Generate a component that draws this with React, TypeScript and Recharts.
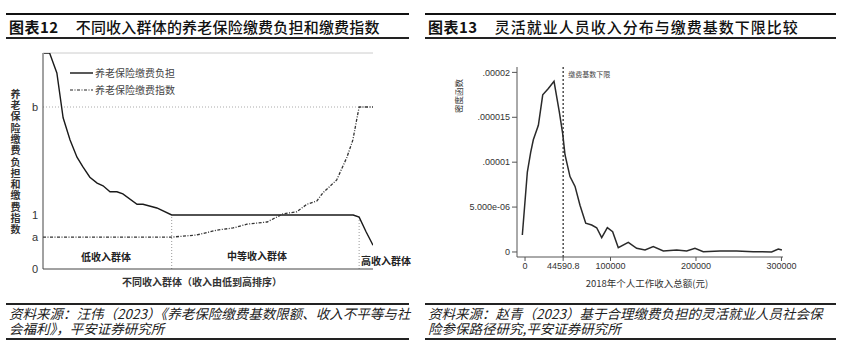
import React from "react";
import { LineChart, Line, XAxis, YAxis, ReferenceLine } from "recharts";

// left chart: income groups sorted low -> high (0..100)
const A_LEVEL = 0.59;
const B_LEVEL = 3;
const burdenX = [0.3, 2, 4.2, 6.1, 8.2, 10.3, 12.1, 14.2, 16.4, 18.2, 20.3, 22.4, 24.2, 28.5, 30.3, 34.5, 39, 94, 95.8, 97.9, 100];
const burdenY = [4.0, 4.0, 3.63, 2.8, 2.39, 2.07, 1.89, 1.7, 1.59, 1.54, 1.43, 1.43, 1.39, 1.2, 1.2, 1.13, 1.0, 1.0, 0.96, 0.69, 0.44];
const indexX = [0, 39, 46.6, 52.7, 57.6, 61.8, 67.9, 72.7, 76.9, 80, 83, 84.8, 89, 92.1, 93.9, 95.2, 95.8, 100];
const indexY = [A_LEVEL, A_LEVEL, 0.63, 0.72, 0.76, 0.83, 0.87, 1.02, 1.06, 1.2, 1.26, 1.41, 1.65, 2.07, 2.39, 2.81, B_LEVEL, B_LEVEL];
const lowEnd = 39;
const midEnd = 95.8;
const leftTicks = [0, A_LEVEL, 1, B_LEVEL];

// right chart: income density (density in units of 1e-6)
const incomeX = [-3150, 2700, 6600, 9700, 15600, 20700, 27300, 33900, 40100, 44000, 46800, 52600, 58500, 64300, 71000, 78000, 83800, 89700, 96300, 102500, 109100, 120800, 130600, 140400, 150000, 161800, 177400, 189100, 198800, 208500, 228000, 247600, 267000, 288500, 296300, 300500];
const densityE6 = [1.89, 8.9, 11.1, 12.5, 14.1, 17.5, 18.2, 19.0, 15.6, 13.2, 10.8, 8.4, 7.3, 5.2, 3.2, 3.0, 2.7, 1.6, 2.7, 2.26, 0.48, 1.08, 0.41, 0.22, 0.59, 0.11, 0.22, 0.11, 0.4, 0.03, 0.1, 0.1, 0.03, 0.0, 0.33, 0.22];
const floorBase = 44590.8;
const xTicks = [0, floorBase, 100000, 200000, 300000];
const xTickLabels = ["0", "44590.8", "100000", "200000", "300000"];
const yTicks = [0, 5, 10, 15, 20];
const yTickLabels = ["0", "5.000e-06", ".00001", ".000015", ".00002"];

const burdenData = burdenX.map((x, i) => ({ x, y: burdenY[i] }));
const indexData = indexX.map((x, i) => ({ x, y: indexY[i] }));
const densityData = incomeX.map((x, i) => ({ x, y: densityE6[i] }));

const cjk = '"Noto Sans CJK SC", "Liberation Sans", sans-serif';
const num = '"Liberation Sans", "Noto Sans CJK SC", sans-serif';

const abs = (s: React.CSSProperties): React.CSSProperties => ({ position: "absolute", ...s });

const LeftChart = () => (
  <div style={abs({ left: 0, top: 0 })}>
    <LineChart width={420} height={300} margin={{ top: 53, right: 47, bottom: 1, left: 0 }}>
      <XAxis
        dataKey="x"
        type="number"
        domain={[0, 100]}
        allowDataOverflow
        tick={false}
        tickLine={false}
        height={30}
        axisLine={{ stroke: "#444" }}
      />
      <YAxis
        type="number"
        domain={[0, 4]}
        allowDataOverflow
        ticks={leftTicks}
        tickFormatter={(v: number) => (v === A_LEVEL ? "a" : v === B_LEVEL ? "b" : String(v))}
        width={43}
        tickLine={false}
        tickSize={3}
        tickMargin={2}
        axisLine={{ stroke: "#444" }}
        tick={{ fill: "#333", fontSize: 11, fontFamily: num }}
      />
      <ReferenceLine y={4} stroke="#ccc" />
      <ReferenceLine y={B_LEVEL} stroke="#aaa" strokeDasharray="1 2" />
      <ReferenceLine segment={[{ x: lowEnd, y: 0 }, { x: lowEnd, y: 1 }]} stroke="#999" strokeDasharray="1 2" />
      <ReferenceLine segment={[{ x: midEnd, y: 0 }, { x: midEnd, y: 1 }]} stroke="#999" strokeDasharray="1 2" />
      <Line data={burdenData} dataKey="y" type="linear" stroke="#1a1a1a" strokeWidth={1.4} dot={false} isAnimationActive={false} />
      <Line data={indexData} dataKey="y" type="linear" stroke="#333" strokeWidth={1.3} strokeDasharray="3 1.5 1 1.5" dot={false} isAnimationActive={false} />
    </LineChart>
  </div>
);

const RightChart = () => (
  <div style={abs({ left: 420, top: 0 })}>
    <LineChart width={422} height={300} margin={{ top: 67, right: 59, bottom: 13, left: 0 }}>
      <XAxis
        dataKey="x"
        type="number"
        domain={[-9400, 301800]}
        allowDataOverflow
        ticks={xTicks}
        tickFormatter={(v: number) => xTickLabels[xTicks.indexOf(v)]}
        height={30}
        tickSize={4}
        tickMargin={2}
        tickLine={{ stroke: "#555" }}
        axisLine={{ stroke: "#555" }}
        tick={{ fill: "#333", fontSize: 9, fontFamily: num }}
      />
      <YAxis
        type="number"
        domain={[-0.56, 20.6]}
        allowDataOverflow
        ticks={yTicks}
        tickFormatter={(v: number) => yTickLabels[yTicks.indexOf(v)]}
        width={97}
        tickSize={5}
        tickMargin={2}
        tickLine={{ stroke: "#555" }}
        axisLine={{ stroke: "#555" }}
        tick={{ fill: "#333", fontSize: 9, fontFamily: num }}
      />
      <ReferenceLine
        x={floorBase}
        stroke="#222"
        strokeWidth={1.2}
        strokeDasharray="2 2"
        label={{ value: "缴费基数下限", position: "insideTopLeft", offset: 5, fontSize: 7, fill: "#444", fontFamily: cjk }}
      />
      <Line data={densityData} dataKey="y" type="linear" stroke="#2a2a2a" strokeWidth={1.5} dot={false} isAnimationActive={false} />
    </LineChart>
  </div>
);

const LegendItem = ({ top, dash, text }: { top: number; dash?: string; text: string }) => (
  <div style={abs({ left: 70, top, height: 12, display: "flex", alignItems: "center" })}>
    <svg width={23} height={4} style={{ display: "block" }}>
      <line x1={0} y1={2} x2={23} y2={2} stroke="#222" strokeWidth={dash ? 1.2 : 1.5} strokeDasharray={dash} />
    </svg>
    <span style={{ marginLeft: 2, fontSize: 10, color: "#444", fontFamily: cjk, lineHeight: "12px" }}>{text}</span>
  </div>
);

const Header = ({ left, width, no, title, spacing }: { left: number; width: number; no: string; title: string; spacing: number }) => (
  <>
    <div style={abs({ left, top: 13, width, height: 2, background: "#111" })} />
    <div style={abs({ left: left + 3, top: 19, fontSize: 15, lineHeight: "16px", fontFamily: cjk, color: "#111", whiteSpace: "nowrap" })}>
      <span style={{ fontWeight: 700, letterSpacing: 0.5 }}>{no}</span>
      <span style={{ marginLeft: 17, fontWeight: 500, letterSpacing: spacing }}>{title}</span>
    </div>
    <div style={abs({ left, top: 37, width, height: 1.5, background: "#222" })} />
  </>
);

// one text node, wrapped by the box width
const Source = ({ left, width, textWidth, text }: { left: number; width: number; textWidth: number; text: string }) => (
  <>
    <div style={abs({ left, top: 303, width, height: 1.5, background: "#222" })} />
    <div style={abs({ left: left + 3, top: 306, width: textWidth, fontSize: 13.5, lineHeight: "14.5px", fontStyle: "italic", fontFamily: cjk, color: "#222", lineBreak: "anywhere" })}>
      {text}
    </div>
    <div style={abs({ left, top: 338, width, height: 1.5, background: "#222" })} />
  </>
);

export default function App() {
  const groupLabel: React.CSSProperties = { fontSize: 10, fontWeight: 700, color: "#222", fontFamily: cjk, textAlign: "center", width: 80, lineHeight: "12px" };
  return (
    <div style={abs({ left: 0, top: 0, width: 842, height: 357, background: "#fff", overflow: "hidden" })}>
      <Header left={6} width={403} no="图表12" title="不同收入群体的养老保险缴费负担和缴费指数" spacing={0.2} />
      <Header left={425} width={411} no="图表13" title="灵活就业人员收入分布与缴费基数下限比较" spacing={1} />

      <LeftChart />
      <LegendItem top={67} text="养老保险缴费负担" />
      <LegendItem top={84} dash="3 1.5 1 1.5" text="养老保险缴费指数" />
      <div style={abs({ left: 13, top: 89, width: 10, writingMode: "vertical-rl", fontSize: 10, letterSpacing: 1.3, fontWeight: 700, color: "#333", fontFamily: cjk })}>
        养老保险缴费负担和缴费指数
      </div>
      <div style={abs({ ...groupLabel, left: 66, top: 251 })}>低收入群体</div>
      <div style={abs({ ...groupLabel, left: 217, top: 250 })}>中等收入群体</div>
      <div style={abs({ ...groupLabel, left: 346, top: 255 })}>高收入群体</div>
      <div style={abs({ left: 102, top: 276, width: 200, textAlign: "center", fontSize: 10, fontWeight: 700, color: "#333", fontFamily: cjk, lineHeight: "12px" })}>
        不同收入群体（收入由低到高排序）
      </div>

      <RightChart />
      <div style={abs({ left: 428, top: 90, width: 60, height: 12, lineHeight: "12px", textAlign: "center", fontSize: 8.5, color: "#333", fontFamily: cjk, whiteSpace: "nowrap", transform: "rotate(-90deg)" })}>
        密度函数
      </div>
      <div style={abs({ left: 547, top: 277, width: 200, textAlign: "center", fontSize: 9.5, color: "#333", fontFamily: cjk, lineHeight: "12px" })}>
        2018年个人工作收入总额(元)
      </div>

      <Source left={6} width={403} textWidth={408} text="资料来源：汪伟（2023）《养老保险缴费基数限额、收入不平等与社会福利》，平安证券研究所" />
      <Source left={425} width={411} textWidth={398} text="资料来源：赵青（2023）基于合理缴费负担的灵活就业人员社会保险参保路径研究,平安证券研究所" />
    </div>
  );
}
